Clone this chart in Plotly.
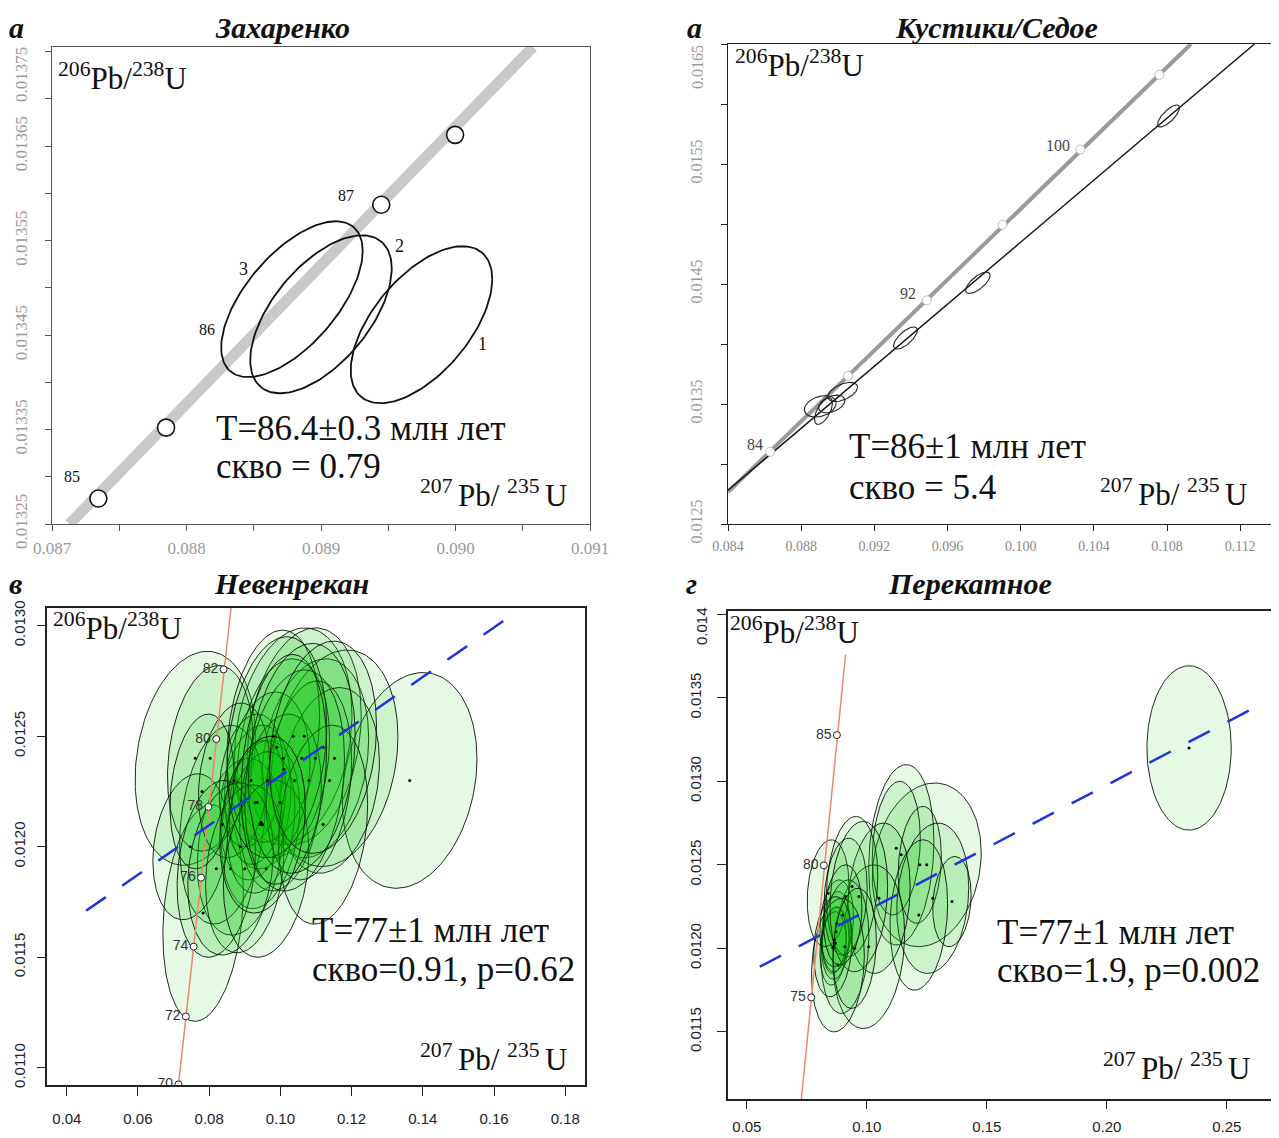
import numpy as np
import plotly.graph_objects as go

W, H = 1279, 1138
OX, OY = 8, 8  # page body margin compensation

# ---------------- DATA ----------------
# Panel 1: Захаренко
zak_conc_x = [0.08713, 0.090576]
zak_conc_y = [0.01325, 0.013755]
zak_age_x = [0.087345, 0.087848, 0.089448, 0.089997]
zak_age_y = [0.013277, 0.013352, 0.013588, 0.013662]
zak_age_lbl = ["85", "86", "87"]
zak_age_lbl_x = [0.087146, 0.088152, 0.089189]
zak_age_lbl_y = [0.013300, 0.013456, 0.013598]
zak_cx = [0.089747, 0.089000, 0.088784]
zak_cy = [0.013461, 0.013472, 0.013488]
zak_sx = [0.000526, 0.000526, 0.000526]
zak_sy = [0.0000831, 0.0000836, 0.0000825]
zak_rho = [0.58, 0.58, 0.62]
zak_ell_lbl = ["1", "2", "3"]
zak_ell_lbl_x = [0.090204, 0.089585, 0.088427]
zak_ell_lbl_y = [0.013441, 0.013544, 0.013520]
zak_yticks = [0.01325, 0.01335, 0.01345, 0.01355, 0.01365, 0.01375]
zak_yticklbl = ["0.01325", "0.01335", "0.01345", "0.01355", "0.01365", ""]

# Panel 2: Кустики/Седое
kus_conc_x = [0.084, 0.10931]
kus_conc_y = [0.012766, 0.0165]
kus_disc_x = [0.084, 0.11278]
kus_disc_y = [0.012781, 0.0165]
kus_age_x = [0.086307, 0.09056, 0.094862, 0.099006, 0.10326, 0.107583]
kus_age_y = [0.013101, 0.013734, 0.014364, 0.014994, 0.015621, 0.016243]
kus_age_lbl = ["84", "92", "100"]
kus_age_lbl_x = [0.08546, 0.093854, 0.10203]
kus_age_lbl_y = [0.013166, 0.014423, 0.015651]
kus_cx = [0.10808, 0.09766, 0.09370, 0.09027, 0.08967, 0.08904, 0.08922]
kus_cy = [0.01590, 0.01451, 0.01405, 0.01360, 0.01350, 0.01348, 0.01344]
kus_sx = [0.00060, 0.00067, 0.00065, 0.00081, 0.00072, 0.00087, 0.00049]
kus_sy = [0.000092, 0.000089, 0.000092, 0.000080, 0.000074, 0.000089, 0.000110]
kus_rho = [0.75, 0.7, 0.7, 0.5, 0.4, 0.3, 0.6]
kus_yticks = [0.0125, 0.0135, 0.0145, 0.0155, 0.0165]
kus_yticklbl = ["0.0125", "0.0135", "0.0145", "0.0155", ""]

# Panel 3: Невенрекан
nev_conc_x = [0.07137, 0.08614]
nev_conc_y = [0.010922, 0.01308]
nev_age_x = [0.07137, 0.07345, 0.07564, 0.07772, 0.07979, 0.08198, 0.08406]
nev_age_y = [0.010925, 0.011232, 0.011548, 0.01186, 0.01218, 0.012487, 0.012802]
nev_age_lbl = ["70", "72", "74", "76", "78", "80", "82"]
nev_fit_x = [0.04542, 0.16365]
nev_fit_y = [0.01171, 0.013033]
nev_cx = [0.0761, 0.1363, 0.0783, 0.1036, 0.1067, 0.1098, 0.1152, 0.1138, 0.1008, 0.0963,
          0.0930, 0.0944, 0.0887, 0.0837, 0.0803, 0.0747, 0.0918, 0.0935, 0.0946, 0.0980,
          0.1000, 0.0870, 0.0900, 0.0820, 0.0860, 0.0960, 0.0780, 0.1080, 0.1040, 0.1120,
          0.0990, 0.1060, 0.1010, 0.1120, 0.0950]
nev_cy = [0.01240, 0.01230, 0.01170, 0.01250, 0.01250, 0.01240, 0.01240, 0.01230, 0.01240, 0.01230,
          0.01220, 0.01210, 0.01200, 0.01210, 0.01240, 0.01200, 0.01230, 0.01220, 0.01211, 0.01250,
          0.01220, 0.01230, 0.01190, 0.01190, 0.01190, 0.01190, 0.01225, 0.01230, 0.01230, 0.01210,
          0.01245, 0.01240, 0.01235, 0.01245, 0.01210]
nev_sx = [0.0169, 0.0189, 0.0113, 0.0165, 0.0160, 0.0150, 0.0178, 0.0140, 0.0130, 0.0120,
          0.0100, 0.0110, 0.0120, 0.0120, 0.0120, 0.0105, 0.0090, 0.0080, 0.0095, 0.0130,
          0.0115, 0.0100, 0.0110, 0.0110, 0.0120, 0.0120, 0.0090, 0.0120, 0.0140, 0.0125,
          0.0140, 0.0150, 0.0120, 0.0150, 0.0120]
nev_sy = [0.000484, 0.000488, 0.00049, 0.00049, 0.00049, 0.00045, 0.00049, 0.00042, 0.00045, 0.00040,
          0.00035, 0.00038, 0.00040, 0.00045, 0.00042, 0.00033, 0.00030, 0.00028, 0.00032, 0.00048,
          0.00040, 0.00035, 0.00038, 0.00040, 0.00039, 0.00040, 0.00035, 0.00045, 0.00050, 0.00045,
          0.00050, 0.00052, 0.00052, 0.00048, 0.00040]
nev_rho = [0.2] * len(nev_cx)

# Panel 4: Перекатное
per_conc_x = [0.07277, 0.09119]
per_conc_y = [0.011098, 0.013758]
per_age_x = [0.07687, 0.08214, 0.08757]
per_age_y = [0.011706, 0.012497, 0.013277]
per_age_lbl = ["75", "80", "85"]
per_fit_x = [0.05543, 0.2622]
per_fit_y = [0.01189, 0.013446]
per_cx = [0.2343, 0.1250, 0.1144, 0.1123, 0.1221, 0.1275, 0.1355, 0.1217, 0.1051, 0.1008,
          0.0869, 0.0865, 0.0872, 0.0860, 0.0875, 0.0839, 0.0939, 0.0909, 0.0912, 0.0967,
          0.0880, 0.0859, 0.0900, 0.0950]
per_cy = [0.01320, 0.01250, 0.01256, 0.01260, 0.01250, 0.01230, 0.01228, 0.01220, 0.01230, 0.01201,
          0.01203, 0.01205, 0.01210, 0.01200, 0.01215, 0.01233, 0.01237, 0.01201, 0.01231, 0.01231,
          0.01190, 0.01201, 0.01220, 0.01200]
per_sx = [0.01756, 0.0227, 0.0136, 0.0100, 0.0090, 0.0150, 0.0080, 0.0120, 0.0130, 0.0150,
          0.0057, 0.0050, 0.0060, 0.0055, 0.0070, 0.0087, 0.0107, 0.0100, 0.0090, 0.0120,
          0.0110, 0.0080, 0.0080, 0.0090]
per_sy = [0.000492, 0.00049, 0.00054, 0.00040, 0.00035, 0.00045, 0.00027, 0.00045, 0.00045, 0.00049,
          0.000215, 0.00020, 0.00024, 0.00022, 0.00026, 0.00032, 0.00042, 0.00040, 0.00035, 0.00045,
          0.00040, 0.00030, 0.00030, 0.00036]
per_rho = [0.0] + [0.15] * (len(per_cx) - 1)
per_yticks = [0.0115, 0.0120, 0.0125, 0.0130, 0.0135, 0.0140]
per_yticklbl = ["0.0115", "0.0120", "0.0125", "0.0130", "0.0135", ""]

# ---------------- HELPERS ----------------
SERIF = "Liberation Serif, Times New Roman, serif"
SANS = "Liberation Sans, Arial, sans-serif"


def ellipse(cx, cy, sx, sy, rho, n=140):
    t = np.linspace(0, 2 * np.pi, n)
    x = cx + sx * np.cos(t)
    y = cy + sy * (rho * np.cos(t) + np.sqrt(1 - rho ** 2) * np.sin(t))
    return x, y


fig = go.Figure()


def add_ellipses(cxs, cys, sxs, sys_, rhos, ax, ay, fill, line, lw):
    for cx, cy, sx, sy, r in zip(cxs, cys, sxs, sys_, rhos):
        ex, ey = ellipse(cx, cy, sx, sy, r)
        fig.add_trace(go.Scatter(x=ex, y=ey, mode="lines", fill="toself" if fill else "none",
                                 fillcolor=fill, line=dict(color=line, width=lw),
                                 hoverinfo="skip", showlegend=False, xaxis=ax, yaxis=ay))


# Panel 1
fig.add_trace(go.Scatter(x=zak_conc_x, y=zak_conc_y, mode="lines",
                         line=dict(color="#c9c9c9", width=11), xaxis="x", yaxis="y",
                         hoverinfo="skip", showlegend=False))
add_ellipses(zak_cx, zak_cy, zak_sx, zak_sy, zak_rho, "x", "y", None, "#111", 1.8)
fig.add_trace(go.Scatter(x=zak_age_x, y=zak_age_y, mode="markers",
                         marker=dict(size=17, color="white", line=dict(color="#111", width=1.6)),
                         xaxis="x", yaxis="y", hoverinfo="skip", showlegend=False))

# Panel 2
fig.add_trace(go.Scatter(x=kus_conc_x, y=kus_conc_y, mode="lines",
                         line=dict(color="#9a9a9a", width=4), xaxis="x2", yaxis="y2",
                         hoverinfo="skip", showlegend=False))
fig.add_trace(go.Scatter(x=kus_disc_x, y=kus_disc_y, mode="lines",
                         line=dict(color="#111", width=1.4), xaxis="x2", yaxis="y2",
                         hoverinfo="skip", showlegend=False))
add_ellipses(kus_cx, kus_cy, kus_sx, kus_sy, kus_rho, "x2", "y2", None, "#222", 1.1)
fig.add_trace(go.Scatter(x=kus_age_x, y=kus_age_y, mode="markers",
                         marker=dict(size=9, color="white", line=dict(color="#bbb", width=1)),
                         xaxis="x2", yaxis="y2", hoverinfo="skip", showlegend=False))

# Panel 3
ELL_FILL = "rgba(0,200,0,0.10)"
ELL_LINE = "rgba(0,0,0,0.85)"
add_ellipses(nev_cx, nev_cy, nev_sx, nev_sy, nev_rho, "x3", "y3", ELL_FILL, ELL_LINE, 1)
fig.add_trace(go.Scatter(x=nev_cx, y=nev_cy, mode="markers", marker=dict(size=3, color="black"),
                         xaxis="x3", yaxis="y3", hoverinfo="skip", showlegend=False))
fig.add_trace(go.Scatter(x=nev_conc_x, y=nev_conc_y, mode="lines",
                         line=dict(color="#e8896b", width=1.5), xaxis="x3", yaxis="y3",
                         hoverinfo="skip", showlegend=False))
fig.add_trace(go.Scatter(x=nev_fit_x, y=nev_fit_y, mode="lines",
                         line=dict(color="#1f35d8", width=2.5, dash="24px,20px"),
                         xaxis="x3", yaxis="y3", hoverinfo="skip", showlegend=False))
fig.add_trace(go.Scatter(x=nev_age_x, y=nev_age_y, mode="markers+text", text=nev_age_lbl,
                         textposition="middle left", textfont=dict(family=SANS, size=14, color="#333"),
                         marker=dict(size=7, color="white", line=dict(color="#222", width=1)),
                         xaxis="x3", yaxis="y3", hoverinfo="skip", showlegend=False))

# Panel 4
add_ellipses(per_cx, per_cy, per_sx, per_sy, per_rho, "x4", "y4", ELL_FILL, ELL_LINE, 1)
fig.add_trace(go.Scatter(x=per_cx, y=per_cy, mode="markers", marker=dict(size=3, color="black"),
                         xaxis="x4", yaxis="y4", hoverinfo="skip", showlegend=False))
fig.add_trace(go.Scatter(x=per_conc_x, y=per_conc_y, mode="lines",
                         line=dict(color="#e8896b", width=1.5), xaxis="x4", yaxis="y4",
                         hoverinfo="skip", showlegend=False))
fig.add_trace(go.Scatter(x=per_fit_x, y=per_fit_y, mode="lines",
                         line=dict(color="#1f35d8", width=2.5, dash="24px,20px"),
                         xaxis="x4", yaxis="y4", hoverinfo="skip", showlegend=False))
fig.add_trace(go.Scatter(x=per_age_x, y=per_age_y, mode="markers+text", text=per_age_lbl,
                         textposition="middle left", textfont=dict(family=SANS, size=14, color="#333"),
                         marker=dict(size=7, color="white", line=dict(color="#222", width=1)),
                         xaxis="x4", yaxis="y4", hoverinfo="skip", showlegend=False))


# ---------------- AXES ----------------
def dom_x(l, r):
    return [(l - OX) / W, (r - OX) / W]


def dom_y(t, b):
    return [1 - (b - OY) / H, 1 - (t - OY) / H]


def ax(domain, rng, anchor, tick0, dtick, fmt, font, color, linecolor, linewidth,
       ticklen, standoff, minor=None, angle=None, tickvals=None, ticktext=None):
    d = dict(domain=domain, range=rng, anchor=anchor, showgrid=False, zeroline=False,
             showline=True, mirror=True, linecolor=linecolor, linewidth=linewidth,
             ticks="outside", ticklen=ticklen, tickcolor=linecolor, tickwidth=1,
             tick0=tick0, dtick=dtick, tickformat=fmt, automargin=False,
             tickfont=dict(family=font[0], size=font[1], color=color),
             ticklabelstandoff=standoff, fixedrange=True)
    if tickvals is not None:
        d["tickmode"] = "array"
        d["tickvals"] = tickvals
        d["ticktext"] = ticktext
    if minor:
        d["minor"] = dict(tickmode="linear", tick0=tick0, dtick=minor, ticks="outside",
                          ticklen=ticklen, tickcolor=linecolor, showgrid=False)
    if angle is not None:
        d["tickangle"] = angle
    return d


layout = dict(width=W, height=H, margin=dict(l=0, r=0, t=0, b=0, autoexpand=False),
              template="none",
              paper_bgcolor="white", plot_bgcolor="white", showlegend=False)

layout["xaxis"] = ax(dom_x(52, 590), [0.087, 0.091], "y", 0.087, 0.001, ".3f", (SERIF, 17), "#999",
                     "#555", 1, 6, 3, minor=0.0005)
layout["yaxis"] = ax(dom_y(47, 524), [0.01325, 0.013755], "x", 0.01325, 0.0001, ".5f", (SERIF, 17),
                     "#999", "#555", 1, 6, 11, minor=0.00005, angle=-90,
                     tickvals=zak_yticks, ticktext=zak_yticklbl)
layout["xaxis2"] = ax(dom_x(728, 1275), [0.084, 0.1139], "y2", 0.084, 0.004, ".3f", (SERIF, 14), "#888",
                      "#222", 1.3, 6, 3)
layout["yaxis2"] = ax(dom_y(44, 524), [0.0125, 0.0165], "x2", 0.0125, 0.001, ".4f", (SERIF, 16), "#999",
                      "#222", 1.3, 6, 12, minor=0.0005, angle=-90,
                      tickvals=kus_yticks, ticktext=kus_yticklbl)
layout["xaxis3"] = ax(dom_x(47, 585), [0.03446, 0.18554], "y3", 0.04, 0.02, ".2f", (SANS, 15), "#222",
                      "#222", 1.5, 9, 10)
layout["yaxis3"] = ax(dom_y(608, 1085), [0.010922, 0.01308], "x3", 0.011, 0.0005, ".4f", (SANS, 15),
                      "#222", "#222", 1.5, 8, 6, angle=-90)
layout["xaxis4"] = ax(dom_x(728, 1275), [0.0422, 0.2701], "y4", 0.05, 0.05, ".2f", (SANS, 15), "#222",
                      "#222", 1.5, 8, 5)
layout["yaxis4"] = ax(dom_y(611, 1099), [0.011098, 0.01402], "x4", 0.0115, 0.0005, ".4f", (SANS, 15),
                      "#222", "#222", 1.5, 9, 10, angle=-90,
                      tickvals=per_yticks, ticktext=per_yticklbl)

fig.update_layout(**layout)

# ---------------- ANNOTATIONS ----------------
ann = []


def ptext(text, x, y, size, family=SERIF, color="#111", anchor="left", angle=0):
    ann.append(dict(text=text, x=(x - OX) / W, y=1 - (y - OY) / H, xref="paper", yref="paper",
                    xanchor=anchor, yanchor="middle", showarrow=False, textangle=angle,
                    font=dict(family=family, size=size, color=color)))


def dtext(text, x, y, xr, yr, size, color="#111"):
    ann.append(dict(text=text, x=x, y=y, xref=xr, yref=yr, xanchor="center", yanchor="middle",
                    showarrow=False, font=dict(family=SERIF, size=size, color=color)))


PB206 = "<sup>206</sup>Pb/<sup>238</sup>U"
PB207 = "<sup>207 </sup>Pb/ <sup>235 </sup>U"

# titles
TS = 30
ptext("<b><i>а</i></b>", 16, 27, TS, anchor="center")
ptext("<b><i>Захаренко</i></b>", 282, 27, TS, anchor="center")
ptext("<b><i>а</i></b>", 694, 27, TS, anchor="center")
ptext("<b><i>Кустики/Седое</i></b>", 996, 27, TS, anchor="center")
ptext("<b><i>в</i></b>", 15, 583, TS, anchor="center")
ptext("<b><i>Невенрекан</i></b>", 291, 583, TS, anchor="center")
ptext("<b><i>г</i></b>", 691, 583, TS, anchor="center")
ptext("<b><i>Перекатное</i></b>", 970, 583, TS, anchor="center")

# top y tick labels placed inside the visible area (as in the reference)
ptext("0.01375", 22, 75, 17, color="#999", anchor="center", angle=-90)
ptext("0.0165", 697, 67, 16, color="#999", anchor="center", angle=-90)
ptext("0.014", 701, 626, 15, family=SANS, color="#222", anchor="center", angle=-90)

# axis-name labels
AS = 31
ptext(PB206, 56, 76, AS)
ptext(PB207, 418, 493, AS)
ptext(PB206, 733, 64, AS)
ptext(PB207, 1098, 492, AS)
ptext(PB206, 51, 626, AS)
ptext(PB207, 418, 1057, AS)
ptext(PB206, 728, 630, AS)
ptext(PB207, 1101, 1066, AS)

# statistics
SS = 35
ptext("T=86.4±0.3 млн лет", 214, 428, SS)
ptext("скво = 0.79", 214, 466, SS)
ptext("T=86±1 млн лет", 847, 446, SS)
ptext("скво = 5.4", 847, 487, SS)
ptext("T=77±1 млн лет", 310, 930, SS)
ptext("скво=0.91, p=0.62", 310, 969, SS)
ptext("T=77±1 млн лет", 995, 932, SS)
ptext("скво=1.9, p=0.002", 995, 970, SS)

# in-plot labels panel 1
for t, x, y in zip(zak_age_lbl, zak_age_lbl_x, zak_age_lbl_y):
    dtext(t, x, y, "x", "y", 16)
for t, x, y in zip(zak_ell_lbl, zak_ell_lbl_x, zak_ell_lbl_y):
    dtext(t, x, y, "x", "y", 18)
# panel 2
for t, x, y in zip(kus_age_lbl, kus_age_lbl_x, kus_age_lbl_y):
    dtext(t, x, y, "x2", "y2", 16, color="#444")

fig.update_layout(annotations=ann)

fig.write_html("out.html")
